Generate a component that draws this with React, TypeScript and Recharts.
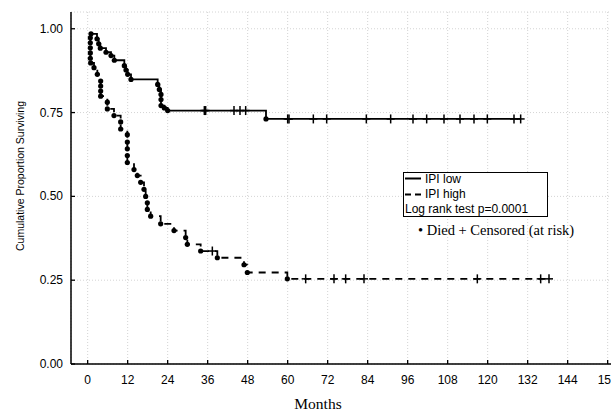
import React from 'react';
import { LineChart, Line, XAxis, YAxis, CartesianGrid, Legend } from 'recharts';

// IPI low: months, cumulative proportion surviving after the event, event (d = died, c = censored)
const lowMonths = [1.0, 2.8, 3.3, 3.8, 5.5, 7.0, 8.0, 11.0, 11.5, 12.0, 13.0, 21.0, 21.5, 22.0, 22.0, 22.0, 23.0, 24.0,
  35.0, 35.4, 43.9, 45.7, 47.4, 53.5,
  60.0, 60.4, 67.7, 71.7, 83.6, 90.9, 97.6, 101.7, 106.9, 111.7, 115.9, 119.9, 127.9, 129.9];
const lowSurv = [0.985, 0.97, 0.955, 0.942, 0.93, 0.92, 0.906, 0.89, 0.877, 0.864, 0.849, 0.834, 0.819, 0.804, 0.789, 0.771, 0.764, 0.756,
  0.756, 0.756, 0.756, 0.756, 0.756, 0.731,
  0.731, 0.731, 0.731, 0.731, 0.731, 0.731, 0.731, 0.731, 0.731, 0.731, 0.731, 0.731, 0.731, 0.731];
const lowEvent = ['d', 'd', 'd', 'd', 'd', 'd', 'd', 'd', 'd', 'd', 'd', 'd', 'd', 'd', 'd', 'd', 'd', 'd',
  'c', 'c', 'c', 'c', 'c', 'd',
  'c', 'c', 'c', 'c', 'c', 'c', 'c', 'c', 'c', 'c', 'c', 'c', 'c', 'c'];

// IPI high
const highMonths = [0.8, 0.8, 0.8, 0.8, 0.8, 0.9, 1.9, 2.9, 3.9, 3.9, 3.9, 3.9, 5.9, 5.9, 7.9, 9.9, 9.9,
  11.9, 11.9, 11.9, 11.9, 11.9, 13.9, 14.9, 15.9, 16.9, 17.4, 17.9, 17.9, 18.9, 21.9, 25.9, 29.4, 29.9,
  33.9, 37.4, 38.9, 46.9, 47.9, 59.9, 65.4, 73.9, 77.4, 82.9, 116.9, 135.9, 138.4];
const highSurv = [0.973, 0.958, 0.943, 0.928, 0.912, 0.898, 0.884, 0.864, 0.844, 0.829, 0.814, 0.799, 0.781, 0.761, 0.741, 0.722, 0.701,
  0.684, 0.662, 0.642, 0.622, 0.601, 0.58, 0.562, 0.542, 0.521, 0.5, 0.481, 0.461, 0.441, 0.418, 0.398, 0.377, 0.357,
  0.337, 0.337, 0.317, 0.296, 0.273, 0.254, 0.254, 0.254, 0.254, 0.254, 0.254, 0.254, 0.254];
const highEvent = ['d', 'd', 'd', 'd', 'd', 'd', 'd', 'd', 'd', 'd', 'd', 'd', 'd', 'd', 'd', 'd', 'd',
  'd', 'd', 'd', 'd', 'd', 'd', 'd', 'd', 'd', 'd', 'd', 'd', 'd', 'd', 'd', 'd', 'd',
  'd', 'c', 'd', 'd', 'd', 'd', 'c', 'c', 'c', 'c', 'c', 'c', 'c'];

const monthTicks = [0, 12, 24, 36, 48, 60, 72, 84, 96, 108, 120, 132, 144, 156];
const survTicks = [0, 0.25, 0.5, 0.75, 1];

const lowData = lowMonths.map((t, i) => ({ t, s: lowSurv[i], e: lowEvent[i] }));
const highData = highMonths.map((t, i) => ({ t, s: highSurv[i], e: highEvent[i] }));

const sans = 'Arial, "Liberation Sans", sans-serif';
const serif = '"Times New Roman", "Liberation Serif", serif';

function EventMark(props: any) {
  const { cx, cy, payload, index } = props;
  if (cx == null || cy == null) return <g key={index} />;
  if (payload.e === 'd') return <circle key={index} cx={cx} cy={cy} r={2.6} fill="#000" />;
  return (
    <g key={index}>
      <line x1={cx} x2={cx} y1={cy - 4.5} y2={cy + 4.5} stroke="#000" strokeWidth={1.5} />
      <line x1={cx - 4} x2={cx + 4} y1={cy} y2={cy} stroke="#000" strokeWidth={1.5} />
    </g>
  );
}

function BottomTick({ x, y, payload }: any) {
  return (
    <g>
      <line x1={x} x2={x} y1={y} y2={y - 4} stroke="#000" strokeWidth={1.3} />
      <text x={x} y={y + 20} textAnchor="middle" fontSize={12} fontFamily={sans} fill="#000">
        {payload.value}
      </text>
    </g>
  );
}

function TopTick({ x, y }: any) {
  return <line x1={x} x2={x} y1={y} y2={y + 4} stroke="#000" strokeWidth={1.3} />;
}

function LeftTick({ x, y, payload }: any) {
  return (
    <g>
      <line x1={x} x2={x + 4} y1={y} y2={y} stroke="#000" strokeWidth={1.3} />
      <text x={x - 8} y={y + 4} textAnchor="end" fontSize={12} fontFamily={sans} fill="#000">
        {payload.value.toFixed(2)}
      </text>
    </g>
  );
}

function LegendBox() {
  return (
    <svg width={231} height={90}>
      <rect x={23.5} y={12.5} width={144} height={44} fill="#fff" stroke="#000" strokeWidth={1} />
      <line x1={25} x2={41} y1={18.5} y2={18.5} stroke="#000" strokeWidth={2} />
      <text x={45} y={22.5} fontSize={12} fontFamily={sans}>IPI low</text>
      <line x1={25} x2={41} y1={34.5} y2={34.5} stroke="#000" strokeWidth={2} strokeDasharray="6 4" />
      <text x={45} y={38} fontSize={12} fontFamily={sans}>IPI high</text>
      <text x={25} y={52.5} fontSize={12} fontFamily={sans}>Log rank test p=0.0001</text>
      <text x={38} y={75} fontSize={14.5} fontFamily={serif}>• Died + Censored (at risk)</text>
    </svg>
  );
}

export default function App() {
  return (
    <div style={{ position: 'absolute', left: 0, top: 0, width: 611, height: 414, overflow: 'hidden', background: '#fff' }}>
      <LineChart width={621} height={414} margin={{ top: 12, right: 0, bottom: 0, left: 0 }}>
        <CartesianGrid stroke="#d4d4d4" strokeDasharray="1 2" />
        <XAxis
          type="number"
          dataKey="t"
          domain={[-5, 160]}
          ticks={monthTicks}
          allowDataOverflow
          height={50}
          stroke="#000"
          strokeWidth={1.5}
          tickSize={0}
          tickMargin={0}
          tickLine={false}
          tick={<BottomTick />}
          label={{
            content: () => (
              <text x={318} y={409} textAnchor="middle" fontSize={15.5} fontFamily={serif} fill="#000">
                Months
              </text>
            ),
          }}
        />
        <XAxis
          xAxisId="top"
          orientation="top"
          type="number"
          dataKey="t"
          domain={[-5, 160]}
          ticks={monthTicks}
          allowDataOverflow
          height={0}
          stroke="#000"
          strokeWidth={1.5}
          tickSize={0}
          tickMargin={0}
          tickLine={false}
          tick={<TopTick />}
        />
        <YAxis
          type="number"
          domain={[0, 1.05]}
          ticks={survTicks}
          allowDataOverflow
          width={71}
          stroke="#000"
          strokeWidth={1.5}
          tickSize={0}
          tickMargin={0}
          tickLine={false}
          tick={<LeftTick />}
          label={{
            content: () => (
              <text
                x={20}
                y={176}
                transform="rotate(-90, 20, 176)"
                textAnchor="middle"
                dominantBaseline="central"
                fontSize={10.5}
                fontFamily={sans}
                fill="#000"
              >
                Cumulative Proportion Surviving
              </text>
            ),
          }}
        />
        <Line
          data={lowData}
          dataKey="s"
          name="IPI low"
          type="stepAfter"
          stroke="#000"
          strokeWidth={1.8}
          dot={EventMark}
          activeDot={false}
          isAnimationActive={false}
        />
        <Line
          data={highData}
          dataKey="s"
          name="IPI high"
          type="stepAfter"
          stroke="#000"
          strokeWidth={1.8}
          strokeDasharray="7 6"
          dot={EventMark}
          activeDot={false}
          isAnimationActive={false}
        />
        <Legend
          layout="vertical"
          align="center"
          verticalAlign="middle"
          content={() => <LegendBox />}
          wrapperStyle={{ position: 'absolute', left: 380, top: 160, width: 231, height: 90 }}
        />
      </LineChart>
    </div>
  );
}
